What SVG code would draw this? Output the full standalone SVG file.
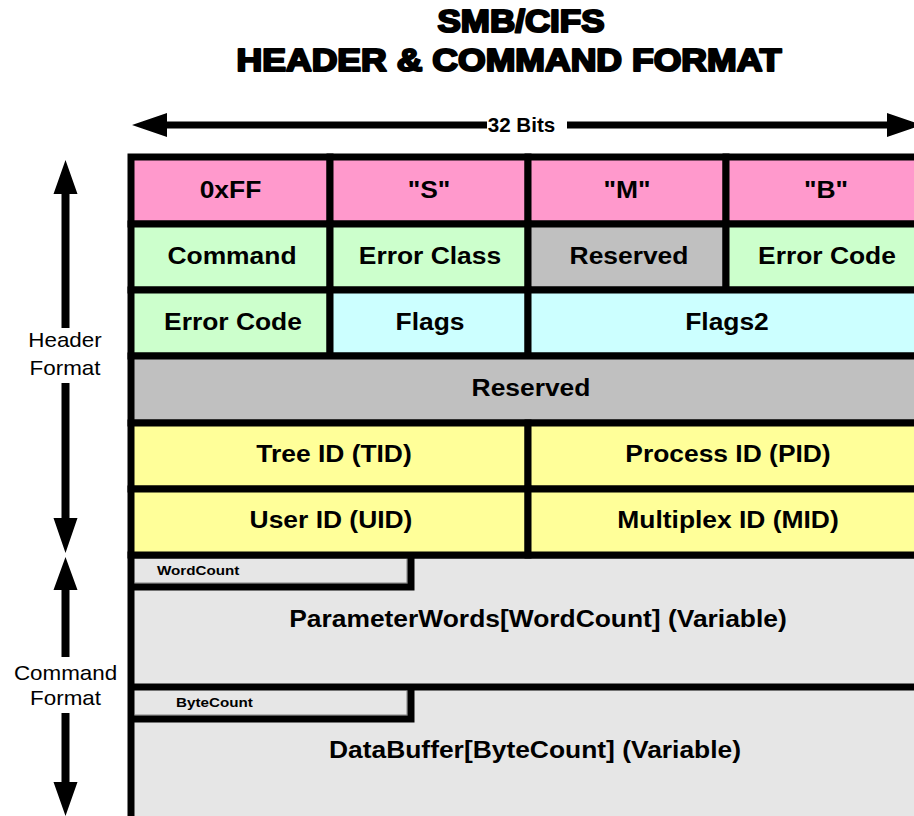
<svg xmlns="http://www.w3.org/2000/svg" width="914" height="816" viewBox="0 0 914 816">
<style>
.cell{stroke:#000;stroke-width:7}
.pink{fill:#FF99CC}.green{fill:#CCFFCC}.gray{fill:#C0C0C0}.cyan{fill:#CCFFFF}.yellow{fill:#FFFF99}.lg{fill:#E6E6E6}
.t{font-family:"Liberation Sans",Arial,sans-serif;font-weight:bold;font-size:24px;fill:#000;text-anchor:middle}
.s{font-family:"Liberation Sans",Arial,sans-serif;font-weight:bold;font-size:13px;fill:#000}
.lab{font-family:"Liberation Sans",Arial,sans-serif;font-size:20px;fill:#000;text-anchor:middle}
.title{font-family:"Liberation Sans",Arial,sans-serif;font-weight:bold;font-size:32px;fill:#000;stroke:#000;stroke-width:2.2;stroke-linejoin:round;text-anchor:middle}
.arr{fill:#000}
.ln{stroke:#000;stroke-width:7;fill:none}
.thin{stroke:#808080;stroke-width:1;fill:none}
</style>
<rect width="914" height="816" fill="#fff"/>

<g id="title">
<text class="title" x="521" y="32" textLength="167" lengthAdjust="spacingAndGlyphs">SMB/CIFS</text>
<text class="title" x="509" y="71" textLength="545" lengthAdjust="spacingAndGlyphs">HEADER &amp; COMMAND FORMAT</text>
</g>

<g id="connectors">
<path class="arr" d="M132,125 L167,113 L167,121.5 L487,121.5 L487,128.5 L167,128.5 L167,137 Z"/>
<path class="arr" d="M922,125 L887,113 L887,121.5 L567,121.5 L567,128.5 L887,128.5 L887,137 Z"/>
<path class="arr" d="M65.5,160 L77.5,194 L69.5,194 L69.5,328 L61.5,328 L61.5,194 L53.5,194 Z"/>
<path class="arr" d="M65.5,553 L77.5,518 L69.5,518 L69.5,383 L61.5,383 L61.5,518 L53.5,518 Z"/>
<path class="arr" d="M65.5,557 L77.5,590 L69.5,590 L69.5,657 L61.5,657 L61.5,590 L53.5,590 Z"/>
<path class="arr" d="M65.5,816 L77.5,782 L69.5,782 L69.5,713 L61.5,713 L61.5,782 L53.5,782 Z"/>
</g>

<g id="bits-label">
<text class="t" transform="translate(521.5,132) scale(1.03,1)" style="font-size:20px">32 Bits</text>
</g>

<g id="header-format-label">
<text class="lab" transform="translate(65,347) scale(1.12,1)">Header</text>
<text class="lab" transform="translate(65,375) scale(1.12,1)">Format</text>
</g>
<g id="command-format-label">
<text class="lab" transform="translate(65.5,680) scale(1.12,1)">Command</text>
<text class="lab" transform="translate(65.5,705) scale(1.12,1)">Format</text>
</g>

<g id="command-area">
<rect class="cell lg" x="131" y="555" width="793" height="280"/>
</g>

<g id="cell-0xFF"><rect class="cell pink" x="131" y="157" width="199" height="67"/><text class="t" transform="translate(230.5,198) scale(1.1,1)">0xFF</text></g>
<g id="cell-S"><rect class="cell pink" x="330" y="157" width="198" height="67"/><text class="t" transform="translate(429,198) scale(1.1,1)">"S"</text></g>
<g id="cell-M"><rect class="cell pink" x="528" y="157" width="198" height="67"/><text class="t" transform="translate(627,198) scale(1.1,1)">"M"</text></g>
<g id="cell-B"><rect class="cell pink" x="726" y="157" width="198" height="67"/><text class="t" transform="translate(826,198) scale(1.1,1)">"B"</text></g>

<g id="cell-command"><rect class="cell green" x="131" y="224" width="199" height="66"/><text class="t" transform="translate(232,264) scale(1.1,1)">Command</text></g>
<g id="cell-error-class"><rect class="cell green" x="330" y="224" width="198" height="66"/><text class="t" transform="translate(430,264) scale(1.1,1)">Error Class</text></g>
<g id="cell-reserved1"><rect class="cell gray" x="528" y="224" width="198" height="66"/><text class="t" transform="translate(629,264) scale(1.1,1)">Reserved</text></g>
<g id="cell-error-code1"><rect class="cell green" x="726" y="224" width="198" height="66"/><text class="t" transform="translate(827,264) scale(1.1,1)">Error Code</text></g>

<g id="cell-error-code2"><rect class="cell green" x="131" y="290" width="199" height="66"/><text class="t" transform="translate(233,330) scale(1.1,1)">Error Code</text></g>
<g id="cell-flags"><rect class="cell cyan" x="330" y="290" width="198" height="66"/><text class="t" transform="translate(430,330) scale(1.1,1)">Flags</text></g>
<g id="cell-flags2"><rect class="cell cyan" x="528" y="290" width="396" height="66"/><text class="t" transform="translate(727,330) scale(1.1,1)">Flags2</text></g>

<g id="cell-reserved2"><rect class="cell gray" x="131" y="356" width="793" height="67"/><text class="t" transform="translate(531,396) scale(1.1,1)">Reserved</text></g>

<g id="cell-tid"><rect class="cell yellow" x="131" y="423" width="397" height="66"/><text class="t" transform="translate(334,462) scale(1.1,1)">Tree ID (TID)</text></g>
<g id="cell-pid"><rect class="cell yellow" x="528" y="423" width="396" height="66"/><text class="t" transform="translate(728,462) scale(1.1,1)">Process ID (PID)</text></g>

<g id="cell-uid"><rect class="cell yellow" x="131" y="489" width="397" height="66"/><text class="t" transform="translate(331,528) scale(1.1,1)">User ID (UID)</text></g>
<g id="cell-mid"><rect class="cell yellow" x="528" y="489" width="396" height="66"/><text class="t" transform="translate(728,528) scale(1.1,1)">Multiplex ID (MID)</text></g>

<g id="wordcount">
<path class="thin" d="M135,583 L407,583 L407,559"/>
<path class="ln" d="M128,587 L411,587 L411,552"/>
<text class="s" transform="translate(157,575) scale(1.17,1)">WordCount</text>
</g>
<g id="parameterwords">
<text class="t" transform="translate(538,627) scale(1.1,1)">ParameterWords[WordCount] (Variable)</text>
</g>
<g id="bytecount">
<path class="ln" d="M128,687 L914,687"/>
<path class="thin" d="M135,715 L407,715 L407,691"/>
<path class="ln" d="M128,719 L411,719 L411,684"/>
<text class="s" transform="translate(176,707) scale(1.17,1)">ByteCount</text>
</g>
<g id="databuffer">
<text class="t" transform="translate(535,758) scale(1.1,1)">DataBuffer[ByteCount] (Variable)</text>
</g>
</svg>
